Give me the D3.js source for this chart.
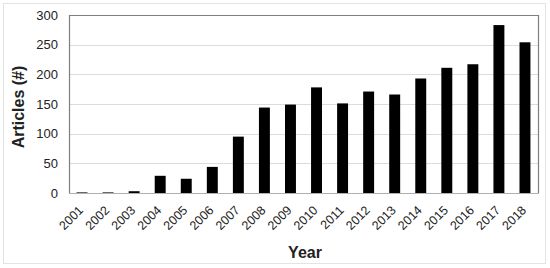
<!DOCTYPE html>
<html>
<head>
<meta charset="utf-8">
<script src="https://cdn.jsdelivr.net/npm/d3@7"></script>
<style>
  body { margin: 0; background: #fff; }
  svg { display: block; font-family: "Liberation Sans", Arial, sans-serif; }
</style>
</head>
<body>
<div id="chart"></div>
<script>
var years = ["2001", "2002", "2003", "2004", "2005", "2006", "2007", "2008", "2009",
  "2010", "2011", "2012", "2013", "2014", "2015", "2016", "2017", "2018"];
var articles = [1, 1, 3, 29, 24, 44, 95, 144, 149, 178, 151, 171, 166, 193, 211, 217, 283, 254];
var yTicks = [0, 50, 100, 150, 200, 250, 300];

var width = 550, height = 268;
var margin = { top: 15, right: 12, bottom: 75, left: 69 };

var svg = d3.select("#chart").append("svg")
  .attr("width", width)
  .attr("height", height);

// outer frame
svg.append("rect")
  .attr("x", 3.5).attr("y", 3.5)
  .attr("width", 542).attr("height", 260)
  .attr("fill", "none")
  .attr("stroke", "#e3e3e3");

var x = d3.scaleBand()
  .domain(years)
  .range([margin.left, width - margin.right])
  .paddingInner(0.58)
  .paddingOuter(0.29);

var y = d3.scaleLinear()
  .domain([0, 300])
  .range([height - margin.bottom, margin.top]);

// gridlines
svg.append("g")
  .selectAll("line")
  .data(yTicks.slice(1, -1))
  .join("line")
  .attr("x1", margin.left).attr("x2", width - margin.right)
  .attr("y1", d => Math.round(y(d)) + 0.5).attr("y2", d => Math.round(y(d)) + 0.5)
  .attr("stroke", "#dcdcdc");

// bars
svg.append("g")
  .selectAll("rect")
  .data(articles)
  .join("rect")
  .attr("x", (d, i) => x(years[i]))
  .attr("y", d => y(d))
  .attr("width", x.bandwidth())
  .attr("height", d => y(0) - y(d))
  .attr("fill", "#000");

// plot frame (left, top, right)
var x0 = margin.left + 0.5, x1 = width - margin.right + 0.5;
var yTop = Math.round(y(300)) + 0.5, yBot = Math.round(y(0)) + 0.5;
svg.append("path")
  .attr("d", "M" + x0 + "," + yBot + "V" + yTop + "H" + x1 + "V" + yBot)
  .attr("fill", "none")
  .attr("stroke", "#7f7f7f")
  .attr("stroke-width", 1.2);

// bottom axis line
svg.append("line")
  .attr("x1", margin.left).attr("x2", x1)
  .attr("y1", yBot).attr("y2", yBot)
  .attr("stroke", "#b0b0b0");

// y axis labels
var yAxis = d3.axisLeft(y).tickValues(yTicks).tickSize(0).tickPadding(11);
var gy = svg.append("g")
  .attr("transform", "translate(" + margin.left + ",0)")
  .call(yAxis);
gy.select(".domain").remove();
gy.selectAll("text")
  .attr("font-size", 13)
  .attr("font-family", "Liberation Sans, Arial, sans-serif")
  .attr("fill", "#222");

// x axis labels, rotated
var xAxis = d3.axisBottom(x).tickSize(0).tickPadding(0);
var gx = svg.append("g")
  .attr("transform", "translate(0," + y(0) + ")")
  .call(xAxis);
gx.select(".domain").remove();
gx.selectAll("text")
  .attr("font-size", 12.5)
  .attr("font-family", "Liberation Sans, Arial, sans-serif")
  .attr("fill", "#222")
  .attr("text-anchor", "end")
  .attr("dy", 0)
  .attr("y", 0)
  .attr("transform", "translate(2,18) rotate(-45)");

// axis titles
svg.append("text")
  .attr("transform", "translate(24,107) rotate(-90)")
  .attr("text-anchor", "middle")
  .attr("font-size", 16)
  .attr("font-weight", "bold")
  .attr("fill", "#222")
  .text("Articles (#)");

svg.append("text")
  .attr("x", 305)
  .attr("y", 258)
  .attr("text-anchor", "middle")
  .attr("font-size", 16)
  .attr("font-weight", "bold")
  .attr("fill", "#222")
  .text("Year");
</script>
</body>
</html>
